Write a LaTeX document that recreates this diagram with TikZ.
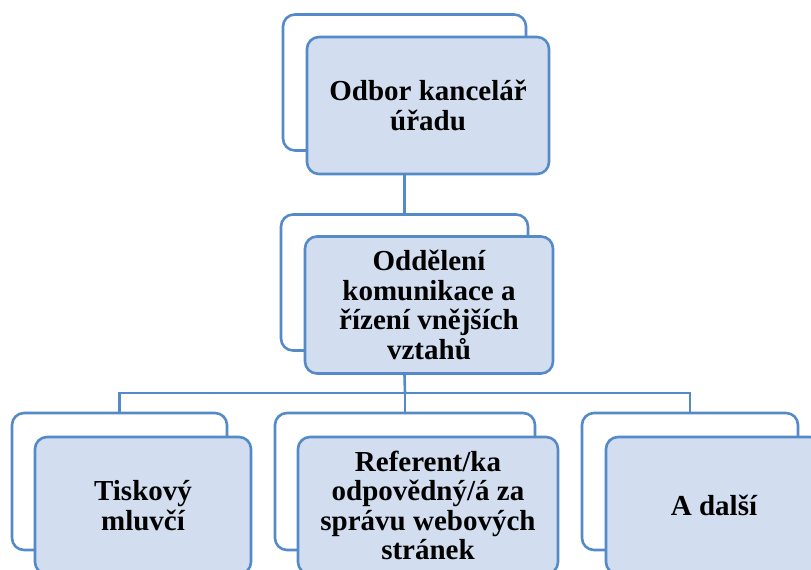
\documentclass[tikz,border=0pt]{standalone}
\usepackage{fontspec}
\setmainfont{Liberation Serif}
\definecolor{ramecek}{RGB}{84,138,200}
\definecolor{vypln}{RGB}{210,222,239}
\tikzset{
  zadni/.style={draw=ramecek,line width=2.6pt,fill=white,rounded corners=12pt,minimum height=136pt,inner sep=0pt},
  predni/.style={draw=ramecek,line width=2.6pt,fill=vypln,rounded corners=12pt,minimum height=137pt,inner sep=0pt,
    align=center,font=\fontsize{29}{29.5}\selectfont\bfseries},
  spoj/.style={draw=ramecek,line width=2.6pt}
}
\begin{document}
\begin{tikzpicture}[x=1pt,y=-1pt]
\clip (0,0) rectangle (811,570);
\fill[white] (0,0) rectangle (811,570);
\node[zadni,minimum width=243pt] (odborZ) at (404.5,82.5) {};
\node[predni,minimum width=242pt] (odbor) at (428,105.5) {Odbor kancelář\\úřadu};
\node[zadni,minimum width=247pt] (oddeleniZ) at (404.5,282.5) {};
\node[predni,minimum width=248pt] (oddeleni) at (429,305) {Oddělení\\komunikace a\\řízení vnějších\\vztahů};
\node[zadni,minimum width=215pt,minimum height=137pt] (tiskZ) at (119.5,481.5) {};
\node[predni,minimum width=216pt] (tisk) at (143,505.5) {Tiskový\\mluvčí};
\node[zadni,minimum width=260pt,minimum height=137pt] (webZ) at (405,481.5) {};
\node[predni,minimum width=260pt] (web) at (428,505.5) {Referent/ka\\odpovědný/á za\\správu webových\\stránek};
\node[zadni,minimum width=216pt,minimum height=137pt] (dalsiZ) at (690,481.5) {};
\node[predni,minimum width=216pt] (dalsi) at (714,505.5) {A další};
\coordinate (sbernice) at (405,393);
\draw[spoj] (odbor.south -| odborZ.south) -- (oddeleniZ.north);
\draw[spoj] (oddeleni.south -| oddeleniZ.south) -- (sbernice);
\draw[spoj] (sbernice) -| (tiskZ.north);
\draw[spoj] (sbernice) -- (webZ.north);
\draw[spoj] (sbernice) -| (dalsiZ.north);
\end{tikzpicture}
\end{document}
